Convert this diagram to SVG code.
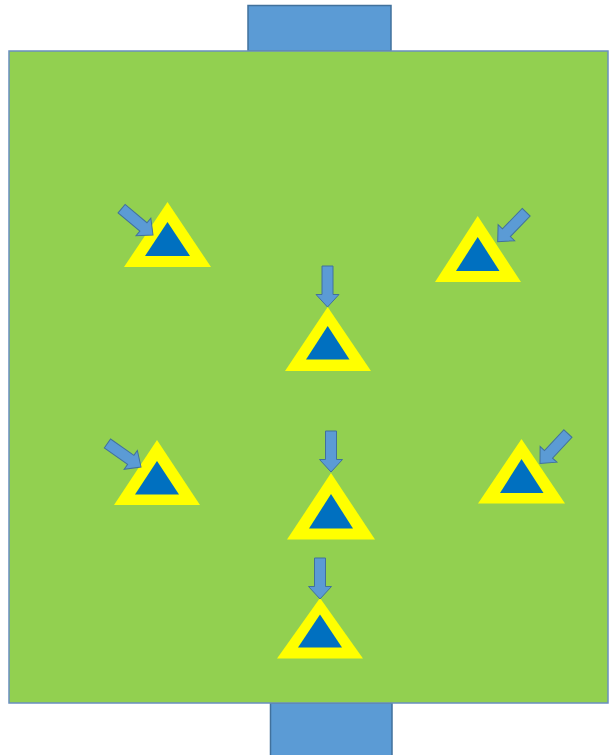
<svg xmlns="http://www.w3.org/2000/svg" width="615" height="755" viewBox="0 0 615 755">
<style>
.tab{fill:#5b9bd5;stroke:#41719c;stroke-width:1.5}
.field{fill:#92d050;stroke:#6a8fbf;stroke-width:1.5}
.yel{fill:#ffff00}
.blu{fill:#0070c0}
.arr{fill:#5b9bd5;stroke:#41719c;stroke-width:1}
</style>
<defs>
<path id="arrow" d="M -5.5,-41 H 5.5 V -12.5 H 11.5 L 0,0 L -11.5,-12.5 H -5.5 Z"/>
</defs>
<rect width="615" height="755" fill="#ffffff"/>
<g id="top-goal"><rect class="tab" x="248" y="5.5" width="143" height="45.5"/></g>
<g id="bottom-goal"><rect class="tab" x="270.5" y="703" width="121.5" height="55"/></g>
<g id="field"><rect class="field" x="9" y="51" width="599" height="652"/></g>
<g id="cone1"><polygon class="yel" points="167.5,202 124,267 211,267"/><polygon class="blu" points="167.5,222 145,256 190,256"/></g>
<g id="cone2"><polygon class="yel" points="327.7,307 285,371 371,371"/><polygon class="blu" points="327.7,326 306,359.5 349.5,359.5"/></g>
<g id="cone3"><polygon class="yel" points="477.7,216 435,282 521,282"/><polygon class="blu" points="477.7,237 456,271 499.5,271"/></g>
<g id="cone4"><polygon class="yel" points="157,440 114,505 200,505"/><polygon class="blu" points="157,461 135,494.5 179,494.5"/></g>
<g id="cone5"><polygon class="yel" points="331,473 287,539.5 375,539.5"/><polygon class="blu" points="331,494 309,528.5 353,528.5"/></g>
<g id="cone6"><polygon class="yel" points="521.5,439 478,503.5 565,503.5"/><polygon class="blu" points="521.5,459 500,493 543.5,493"/></g>
<g id="cone7"><polygon class="yel" points="320,598 277,658.5 363,658.5"/><polygon class="blu" points="320,614.5 298,647.5 342,647.5"/></g>
<g id="connectors">
<use href="#arrow" class="arr" transform="translate(153,235) rotate(-50)"/>
<use href="#arrow" class="arr" transform="translate(327.5,307) rotate(0)"/>
<use href="#arrow" class="arr" transform="translate(497.7,241.7) rotate(44)"/>
<use href="#arrow" class="arr" transform="translate(141,467) rotate(-55)"/>
<use href="#arrow" class="arr" transform="translate(331,472) rotate(0)"/>
<use href="#arrow" class="arr" transform="translate(540,463.5) rotate(43)"/>
<use href="#arrow" class="arr" transform="translate(320,599) rotate(0)"/>
</g>
</svg>
